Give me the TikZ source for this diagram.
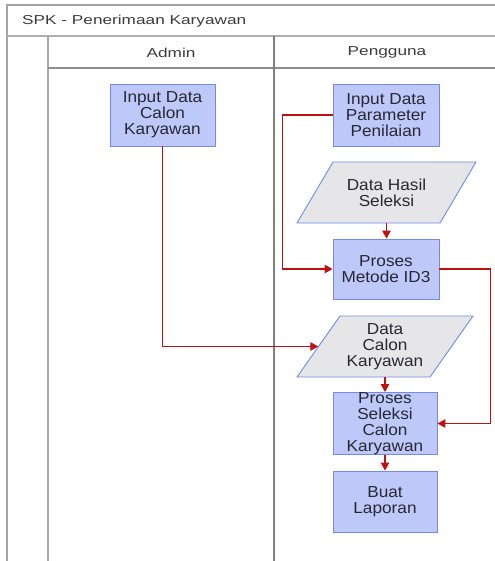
\documentclass[tikz,border=0pt]{standalone}
\usepackage{fontspec}
\setmainfont{Liberation Sans}[FakeStretch=1.08]
\newfontfamily\headfont{Liberation Sans}[FakeStretch=1.33]
\usetikzlibrary{arrows.meta}

\definecolor{boxfill}{RGB}{190,201,249}
\definecolor{boxline}{RGB}{112,140,230}
\definecolor{datafill}{RGB}{230,230,232}
\definecolor{flowred}{RGB}{192,16,16}
\definecolor{lanegrey}{RGB}{140,140,140}
\definecolor{txt}{RGB}{40,40,52}
\definecolor{headtxt}{RGB}{60,60,60}

\newcommand{\boxfont}{\fontsize{16}{16}\selectfont}
\newcommand{\lanefont}{\headfont\fontsize{13}{14}\selectfont}

\tikzset{
  proc/.style={draw=boxline, fill=boxfill, line width=0.9bp, inner sep=0pt,
    align=center, font=\boxfont, text=txt},
  datatext/.style={inner sep=0pt, minimum height=61bp, align=center,
    font=\boxfont, text=txt},
  para/.style={draw=boxline, fill=datafill, line width=0.9bp},
  flow/.style={draw=flowred, line width=1.2bp,
    -{Triangle[length=8bp,width=8.5bp]}},
  lane/.style={draw=lanegrey, line width=1.4bp},
  lanelabel/.style={font=\lanefont, text=headtxt, inner sep=0pt},
}

\begin{document}
\begin{tikzpicture}[x=1bp, y=-1bp]
  % canvas
  \fill[white] (0,0) rectangle (495,561);
  \useasboundingbox (0,0) rectangle (495,561);

  % pool and swimlanes
  \draw[lane, draw=lanegrey!80] (7,561) -- (7,5) -- (495,5);
  \draw[lane, draw=lanegrey!70] (7,36) -- (495,36);
  \draw[lane, draw=lanegrey!75] (48,36) -- (48,561);
  \draw[lane] (48,68) -- (495,68);
  \draw[lane, draw=lanegrey!90!black] (274,36) -- (274,561);

  \node[lanelabel, anchor=west] (title) at (22,21.5) {SPK - Penerimaan Karyawan};
  \node[lanelabel] (admin) at (171,52.5) {Admin};
  \node[lanelabel] (user) at (387,52.5) {Pengguna};

  % process boxes
  \node[proc, minimum width=105bp, minimum height=62bp] (n1) at (162.5,115)
    {Input Data\\Calon\\Karyawan};
  \node[proc, minimum width=106bp, minimum height=62bp] (n2) at (386,115)
    {Input Data\\Parameter\\Penilaian};
  \node[proc, minimum width=106bp, minimum height=60bp] (n3) at (386,269)
    {Proses\\Metode ID3};
  \node[proc, minimum width=104bp, minimum height=61bp] (n4) at (385,423.5)
    {Proses\\Seleksi\\Calon\\Karyawan};
  \node[proc, minimum width=104bp, minimum height=61bp] (n5) at (385,501.5)
    {Buat\\Laporan};

  % data (parallelogram) shapes
  \path[para] (297,223) -- (333,162) -- (476,162) -- (440,223) -- cycle;
  \node[datatext, minimum width=143bp] (d1) at (386.5,192.5) {Data Hasil\\Seleksi};
  \path[para] (297,377) -- (340,316) -- (473,316) -- (430,377) -- cycle;
  \node[datatext, minimum width=133bp] (d2) at (385,346.5) {Data\\Calon\\Karyawan};

  % flows
  \draw[flow] (n2.west) -- ++(-50,0) |- (n3.west);
  \draw[flow] (d1.south) -- (d1.south |- n3.north);
  \draw[flow] (n3.east) -- ++(51,0) |- (n4.east);
  \draw[flow] (n1.south) |- (d2.west);
  \draw[flow] (d2.south) -- (d2.south |- n4.north);
  \draw[flow] (n4.south) -- (n5.north);
\end{tikzpicture}
\end{document}
